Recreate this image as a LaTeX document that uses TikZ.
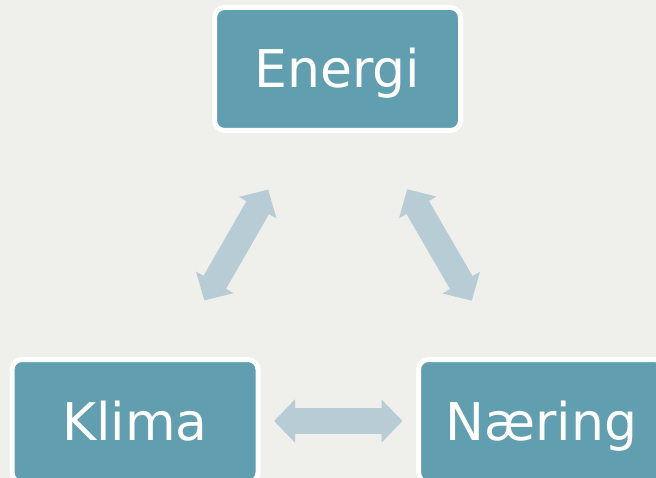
\documentclass[tikz,border=0pt]{standalone}
\usepackage{fontspec}
\setsansfont{DejaVu Sans}
\usetikzlibrary{arrows.meta}
\definecolor{bakgrunn}{HTML}{EFEFEB}
\definecolor{kassefarge}{HTML}{619EAF}
\definecolor{pilfarge}{HTML}{B8CCD5}
\tikzset{
  kasse/.style={draw=white,line width=5pt,fill=kassefarge,rounded corners=10pt,
    minimum width=246pt,minimum height=123pt,inner sep=0pt,
    text=white,text height=38pt,text depth=0pt,
    font=\sffamily\fontsize{52}{60}\selectfont},
  pil/.style={pilfarge,line width=26pt,
    {Triangle[width=42pt,length=21pt]}-{Triangle[width=42pt,length=21pt]},
    shorten <=139pt,shorten >=139pt}
}
\begin{document}
\begin{tikzpicture}[x=1pt,y=-1pt]
\fill[bakgrunn] (0,0) rectangle (656,478);
\useasboundingbox (0,0) rectangle (656,478);
\node[kasse] (energi) at (337.5,69) {Energi};
\node[kasse] (klima) at (135,421) {Klima};
\node[kasse] (naering) at (541.5,421) {Næring};
\foreach \a/\b in {energi/klima,energi/naering,klima/naering}
  \draw[pil] (\a.center) -- (\b.center);
\end{tikzpicture}
\end{document}
